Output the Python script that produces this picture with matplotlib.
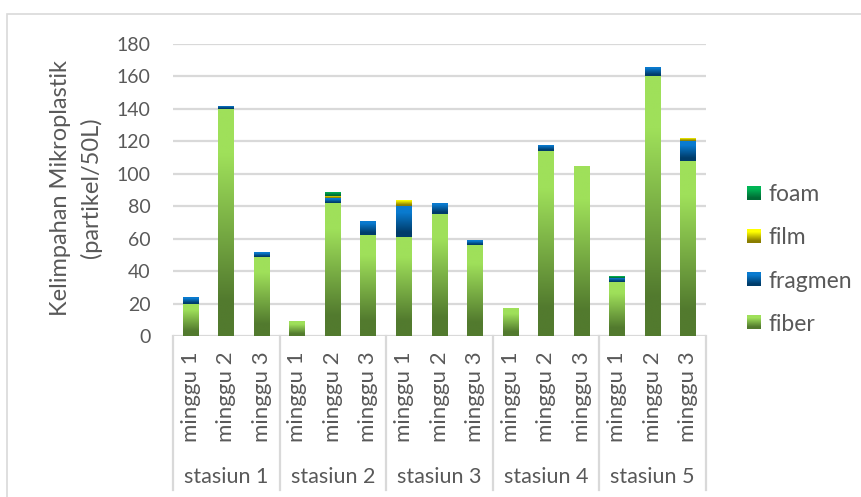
import numpy as np
import matplotlib
matplotlib.use("Agg")
import matplotlib.pyplot as plt
from matplotlib.patches import Rectangle
from matplotlib.legend_handler import HandlerBase
from matplotlib.image import BboxImage
from matplotlib.transforms import Bbox, TransformedBbox, blended_transform_factory

# data
stations = ['stasiun 1', 'stasiun 2', 'stasiun 3', 'stasiun 4', 'stasiun 5']
weeks = ['minggu 1', 'minggu 2', 'minggu 3']
fiber = [20, 140, 49, 9, 82, 62, 61, 75, 56, 17, 114, 105, 33, 160, 108]
fragmen = [4, 2, 3, 0, 3, 9, 19, 7, 3, 0, 4, 0, 3, 6, 12]
film = [0, 0, 0, 0, 1.5, 0, 4, 0, 0, 0, 0, 0, 0, 0, 2]
foam = [0, 0, 0, 0, 2.5, 0, 0, 0, 0, 0, 0, 0, 1, 0, 0]

series = [('fiber', fiber), ('fragmen', fragmen), ('film', film), ('foam', foam)]
# (top colour, bottom colour) of each gradient
grads = {
    'fiber': ('#9fe05a', '#527a2e'),
    'fragmen': ('#0a7bd0', '#003c6a'),
    'film': ('#ffff00', '#8a7d00'),
    'foam': ('#00b555', '#006b35'),
}

TXT = '#595959'
GRID = '#d9d9d9'
plt.rcParams['font.family'] = ['Lato', 'DejaVu Sans']
FS_TICK = 14
FS = 16


def grad_img(name, n=128):
    top = np.array(matplotlib.colors.to_rgb(grads[name][0]))
    bot = np.array(matplotlib.colors.to_rgb(grads[name][1]))
    t = np.linspace(0, 1, n)
    w = np.clip((t - 0.2) / 0.65, 0, 1)[:, None]
    rgb = (1 - w) * top + w * bot
    return rgb[:, None, :]


W, H = 861, 497
fig = plt.figure(figsize=(W / 100, H / 100), dpi=100)
ax = fig.add_axes([173 / W, 1 - 336 / H, (706 - 173) / W, (336 - 44) / H])

x = np.arange(len(fiber))
bottom = np.zeros(len(fiber))
for name, vals in series:
    vals = np.array(vals, dtype=float)
    bars = ax.bar(x, vals, width=0.45, bottom=bottom, facecolor='none',
                  edgecolor='none', zorder=2)
    img = grad_img(name)
    for b, v in zip(bars, vals):
        if v <= 0:
            continue
        x0, y0 = b.get_x(), b.get_y()
        im = ax.imshow(img, extent=(x0, x0 + b.get_width(), y0, y0 + v),
                       aspect='auto', origin='upper', interpolation='bilinear', zorder=2)
        im.set_clip_path(b)
    bottom += vals

ax.set_xlim(-0.5, len(fiber) - 0.5)
ax.set_ylim(0, 180)
ax.set_yticks(range(0, 181, 20))
ax.set_xticks([])
ax.yaxis.grid(True, color=GRID, lw=1.6)
ax.set_axisbelow(True)
for s in ax.spines.values():
    s.set_visible(False)
ax.tick_params(axis='y', length=0, pad=16, labelsize=FS_TICK, labelcolor=TXT)

# two level category axis
tr = blended_transform_factory(ax.transData, ax.transAxes)
hpx = 336 - 44
for i in range(len(fiber)):
    ax.text(i, -15 / hpx, weeks[i % 3], rotation=90, ha='center', va='top',
            fontsize=FS, color=TXT, transform=tr)
for g, st in enumerate(stations):
    ax.text(g * 3 + 1, -141 / hpx, st, ha='center', va='center',
            fontsize=FS - 0.5, color=TXT, transform=tr)
for k in range(len(stations) + 1):
    ax.plot([k * 3 - 0.5] * 2, [0, -154 / hpx], color=GRID, lw=1.6,
            transform=tr, clip_on=False)

fig.text(76 / W, 1 - 188 / H, 'Kelimpahan Mikroplastik\n(partikel/50L)',
         rotation=90, ha='center', va='center', fontsize=17, color=TXT,
         linespacing=1.45, multialignment='center')


class GradHandler(HandlerBase):
    def create_artists(self, legend, orig_handle, xdescent, ydescent,
                       width, height, fontsize, trans):
        side = min(width, height)
        bb = Bbox.from_bounds(-xdescent, -ydescent + (height - side) / 2, side, side)
        bi = BboxImage(TransformedBbox(bb, trans), interpolation='bilinear')
        bi.set_data(grad_img(orig_handle.get_label()))
        return [bi]


handles = [Rectangle((0, 0), 1, 1, label=n) for n, _ in series][::-1]
leg = fig.legend(handles=handles, labels=[h.get_label() for h in handles],
                 handler_map={Rectangle: GradHandler()},
                 loc='center left', bbox_to_anchor=(747 / W, 1 - 259.5 / H),
                 frameon=False, fontsize=FS + 0.5, labelcolor=TXT,
                 handlelength=0.57, handleheight=0.57, handletextpad=0.35,
                 labelspacing=0.97, borderpad=0, borderaxespad=0)

fig.patches.append(Rectangle((7 / W, -0.1), 1.2, 1.1 - 14 / H,
                             transform=fig.transFigure, fill=False,
                             edgecolor=GRID, lw=1.2))

fig.savefig('out.png', dpi=100)
